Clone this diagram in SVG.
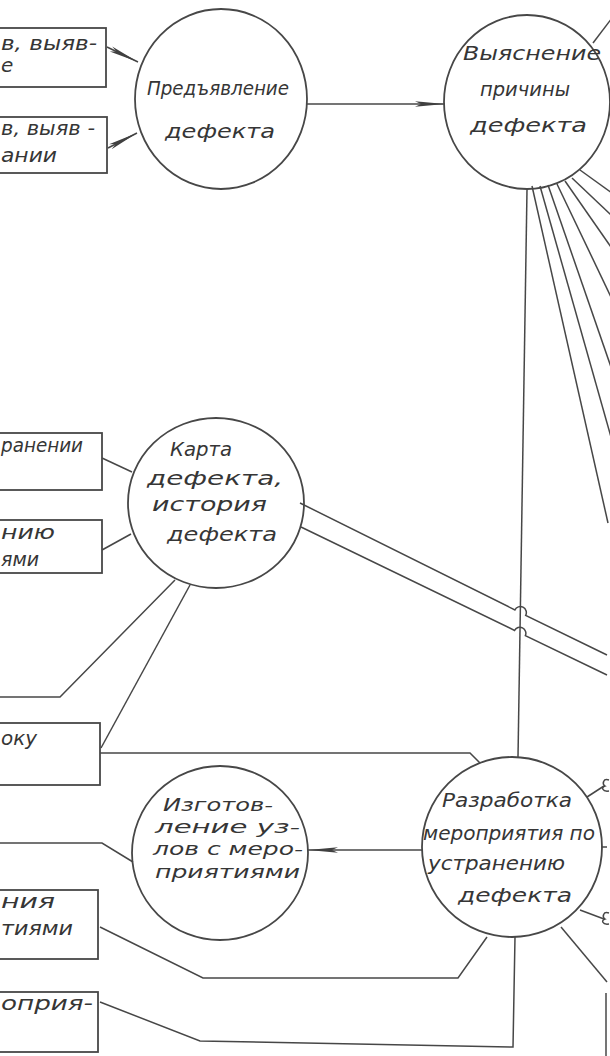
<svg xmlns="http://www.w3.org/2000/svg" width="610" height="1056" viewBox="0 0 610 1056">
<defs>
<style>
.n{fill:none;stroke:#474747;stroke-width:1.8}
.c{fill:none;stroke:#474747;stroke-width:1.5}
.t{font-family:"DejaVu Sans","Liberation Sans",sans-serif;font-style:oblique;font-size:20px;fill:#363636}
.s{font-size:18px}
</style>
<marker id="ar" markerUnits="userSpaceOnUse" markerWidth="32" markerHeight="10" refX="30" refY="5" orient="auto">
<path d="M0,2.2 L30,5 L0,7.8 L6,5 z" fill="#404040"/>
</marker>
</defs>
<rect width="610" height="1056" fill="#ffffff"/>

<g id="connectors">
<line class="c" x1="107" y1="47" x2="138" y2="62" marker-end="url(#ar)"/>
<line class="c" x1="108" y1="148" x2="137" y2="133" marker-end="url(#ar)"/>
<line class="c" x1="307" y1="104" x2="445" y2="104" marker-end="url(#ar)"/>
<line class="c" x1="593" y1="43" x2="612" y2="18"/>
<line class="c" x1="580" y1="170" x2="612" y2="193"/>
<line class="c" x1="532" y1="186" x2="608" y2="523"/>
<line class="c" x1="540" y1="186" x2="611" y2="437"/>
<line class="c" x1="548" y1="185" x2="611" y2="367"/>
<line class="c" x1="557" y1="184" x2="611" y2="297"/>
<line class="c" x1="565" y1="181" x2="611" y2="247"/>
<line class="c" x1="572" y1="178" x2="611" y2="215"/>
<line class="c" x1="527" y1="190" x2="518" y2="757"/>
<path class="c" d="M300,503 L514.9,609.9 A6,6 0 0 1 525.7,615.3 L607,655"/>
<path class="c" d="M301,527 L514.6,630.4 A6,6 0 0 1 525.4,635.6 L607,675"/>
<line class="c" x1="102" y1="458" x2="132" y2="472"/>
<line class="c" x1="102" y1="550" x2="131" y2="534"/>
<polyline class="c" points="175,580 60,697 -2,697"/>
<line class="c" x1="190" y1="585" x2="101" y2="748"/>
<polyline class="c" points="100,753 470,753 480,763"/>
<polyline class="c" points="-2,843 102,843 133,862"/>
<line class="c" x1="422" y1="850" x2="308" y2="850" marker-end="url(#ar)"/>
<polyline class="c" points="100,927 203,978 458,978 487,937"/>
<polyline class="c" points="100,1002 200,1041 513,1047 515,937"/>
<line class="c" x1="587" y1="797" x2="604" y2="786"/>
<path class="c" d="M609,780 C603,778 602,784 605,786 C601,787 602,792 609,791"/>
<line class="c" x1="601" y1="847" x2="607" y2="847"/>
<line class="c" x1="580" y1="910" x2="604" y2="919"/>
<path class="c" d="M609,913 C603,911 602,917 605,919 C601,920 602,925 609,924"/>
<line class="c" x1="561" y1="927" x2="607" y2="982"/>
<line class="c" x1="606" y1="993" x2="606" y2="1056"/>
</g>

<g id="box1"><rect class="n" x="-2" y="28" width="108" height="59"/>
<text class="t" x="1" y="50" textLength="96" lengthAdjust="spacingAndGlyphs">в, выяв-</text>
<text class="t" x="1" y="72">е</text></g>

<g id="box2"><rect class="n" x="-2" y="117" width="109" height="56"/>
<text class="t" x="1" y="135" textLength="94" lengthAdjust="spacingAndGlyphs">в, выяв -</text>
<text class="t" x="1" y="162" textLength="56" lengthAdjust="spacingAndGlyphs">ании</text></g>

<g id="predjavlenie"><ellipse class="n" cx="221" cy="99" rx="86" ry="90"/>
<text class="t" x="147" y="95" textLength="142" lengthAdjust="spacingAndGlyphs">Предъявление</text>
<text class="t" x="165" y="138" textLength="110" lengthAdjust="spacingAndGlyphs">дефекта</text></g>

<g id="vyjasnenie"><ellipse class="n" cx="527" cy="102" rx="83" ry="87"/>
<text class="t" x="463" y="60" textLength="138" lengthAdjust="spacingAndGlyphs">Выяснение</text>
<text class="t" x="480" y="96" textLength="90" lengthAdjust="spacingAndGlyphs">причины</text>
<text class="t" x="470" y="132" textLength="117" lengthAdjust="spacingAndGlyphs">дефекта</text></g>

<g id="box3"><rect class="n" x="-2" y="433" width="104" height="57"/>
<text class="t" x="1" y="452" textLength="82" lengthAdjust="spacingAndGlyphs">ранении</text></g>

<g id="box4"><rect class="n" x="-2" y="520" width="104" height="53"/>
<text class="t" x="1" y="539" textLength="54" lengthAdjust="spacingAndGlyphs">нию</text>
<text class="t" x="1" y="566" textLength="38" lengthAdjust="spacingAndGlyphs">ями</text></g>

<g id="karta"><ellipse class="n" cx="216" cy="503" rx="88" ry="85"/>
<text class="t" x="170" y="456" textLength="62" lengthAdjust="spacingAndGlyphs">Карта</text>
<text class="t" x="147" y="485" textLength="136" lengthAdjust="spacingAndGlyphs">дефекта,</text>
<text class="t" x="152" y="511" textLength="115" lengthAdjust="spacingAndGlyphs">история</text>
<text class="t" x="167" y="541" textLength="110" lengthAdjust="spacingAndGlyphs">дефекта</text></g>

<g id="box5"><rect class="n" x="-2" y="723" width="102" height="62"/>
<text class="t" x="1" y="745" textLength="36" lengthAdjust="spacingAndGlyphs">оку</text></g>

<g id="izgotovlenie"><ellipse class="n" cx="220" cy="853" rx="88" ry="87"/>
<text class="t s" x="163" y="811" textLength="110" lengthAdjust="spacingAndGlyphs">Изготов-</text>
<text class="t s" x="155" y="833" textLength="145" lengthAdjust="spacingAndGlyphs">ление уз-</text>
<text class="t s" x="153" y="855" textLength="150" lengthAdjust="spacingAndGlyphs">лов с меро-</text>
<text class="t s" x="155" y="878" textLength="145" lengthAdjust="spacingAndGlyphs">приятиями</text></g>

<g id="box7"><rect class="n" x="-2" y="890" width="100" height="69"/>
<text class="t" x="1" y="908" textLength="54" lengthAdjust="spacingAndGlyphs">ния</text>
<text class="t" x="1" y="935" textLength="72" lengthAdjust="spacingAndGlyphs">тиями</text></g>

<g id="box8"><rect class="n" x="-2" y="992" width="100" height="60"/>
<text class="t" x="1" y="1010" textLength="92" lengthAdjust="spacingAndGlyphs">оприя-</text></g>

<g id="razrabotka"><ellipse class="n" cx="512" cy="847" rx="90" ry="90"/>
<text class="t" x="442" y="807" textLength="130" lengthAdjust="spacingAndGlyphs">Разработка</text>
<text class="t" x="423" y="840" textLength="172" lengthAdjust="spacingAndGlyphs">мероприятия по</text>
<text class="t" x="428" y="870" textLength="137" lengthAdjust="spacingAndGlyphs">устранению</text>
<text class="t" x="458" y="902" textLength="114" lengthAdjust="spacingAndGlyphs">дефекта</text></g>
</svg>
